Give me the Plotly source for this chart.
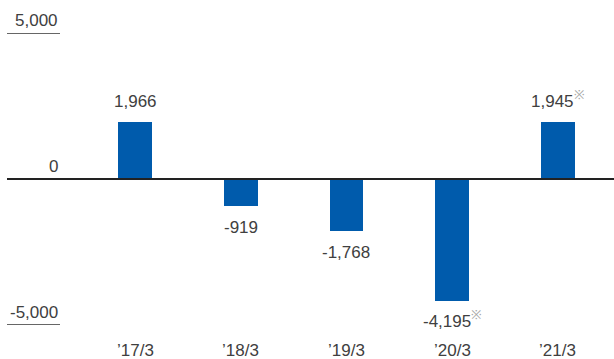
import plotly.graph_objects as go

# Fiscal periods and values
periods = ["’17/3", "’18/3", "’19/3", "’20/3", "’21/3"]
values = [1966, -919, -1768, -4195, 1945]
value_notes = ["", "", "", "※", "※"]
y_ticks = [5000, 0, -5000]
y_tick_labels = ["5,000", "0", "-5,000"]

W, H = 614, 359
TEXT = "#404040"
BAR = "#005BAC"
FONT = "Liberation Sans, Arial, sans-serif"


def label_shift(v):
    # keep the deepest label clear of the period labels underneath
    if v >= 0:
        return 9
    return -5 if v < -4000 else -10


fig = go.Figure()
fig.add_trace(go.Bar(
    x=periods, y=values,
    marker=dict(color=BAR, line=dict(width=0)),
    width=0.32,
    hoverinfo="skip",
))

annotations = []
for p, v, note in zip(periods, values, value_notes):
    txt = f"{v:,}"
    if note:
        txt += f"<span style='font-size:18px;color:#a6a6a6'><sup>{note}</sup></span>"
    annotations.append(dict(x=p, y=v, xref="x", yref="y", text=txt, showarrow=False,
                            yanchor="bottom" if v >= 0 else "top", yshift=label_shift(v),
                            font=dict(size=17, color=TEXT, family=FONT)))
    # period label under the plot
    annotations.append(dict(x=p, y=-5000, xref="x", yref="y", text=p, showarrow=False,
                            yanchor="top", yshift=-14, font=dict(size=17, color=TEXT, family=FONT)))

# y-axis labels, right-aligned over short rules
for t, lab in zip(y_ticks, y_tick_labels):
    annotations.append(dict(x=60 / W, y=t, xref="paper", yref="y", text=lab, showarrow=False,
                            xanchor="right", yanchor="bottom", yshift=1,
                            font=dict(size=17, color=TEXT, family=FONT)))

shapes = []
for t in (5000, -5000):
    shapes.append(dict(type="line", xref="paper", yref="y", x0=7 / W, x1=60 / W, y0=t, y1=t,
                       line=dict(color="#333333", width=1.5)))
shapes.append(dict(type="line", xref="paper", yref="y", x0=7 / W, x1=1, y0=0, y1=0,
                   line=dict(color="#222222", width=2.2), layer="above"))

fig.update_layout(
    width=W, height=H,
    margin=dict(l=0, r=0, t=33, b=34),
    paper_bgcolor="white", plot_bgcolor="white",
    showlegend=False,
    bargap=0,
    xaxis=dict(type="category", range=[-1.277, 4.53], showticklabels=False,
               showgrid=False, zeroline=False, showline=False, fixedrange=True),
    yaxis=dict(range=[-5000, 5000], showticklabels=False, showgrid=False,
               zeroline=False, showline=False, fixedrange=True),
    annotations=annotations,
    shapes=shapes,
)

fig.write_html("out.html", config={"displayModeBar": False})
